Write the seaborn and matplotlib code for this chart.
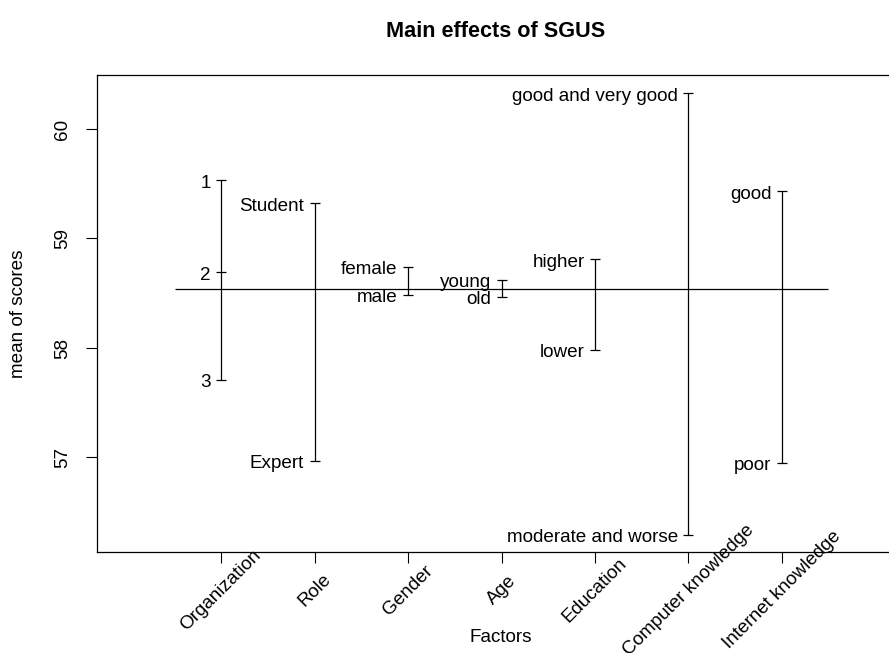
import pandas as pd
import matplotlib
matplotlib.use("Agg")
import matplotlib.pyplot as plt
import seaborn as sns

# Factor names (x axis) and the mean score for every level of each factor
factors = ["Organization", "Role", "Gender", "Age", "Education",
           "Computer knowledge", "Internet knowledge"]

organization_levels = ["1", "2", "3"]
organization_means = [59.53, 58.69, 57.71]

role_levels = ["Student", "Expert"]
role_means = [59.32, 56.97]

gender_levels = ["female", "male"]
gender_means = [58.74, 58.485]

age_levels = ["young", "old"]
age_means = [58.62, 58.47]

education_levels = ["higher", "lower"]
education_means = [58.81, 57.98]

computer_levels = ["good and very good", "moderate and worse"]
computer_means = [60.326, 56.295]

internet_levels = ["good", "poor"]
internet_means = [59.43, 56.95]

grand_mean = 58.54

y_ticks = [57, 58, 59, 60]

level_sets = [
    (organization_levels, organization_means),
    (role_levels, role_means),
    (gender_levels, gender_means),
    (age_levels, age_means),
    (education_levels, education_means),
    (computer_levels, computer_means),
    (internet_levels, internet_means),
]

rows = []
for factor, (levels, means) in zip(factors, level_sets):
    for level, mean in zip(levels, means):
        rows.append({"factor": factor, "level": level, "mean": mean})
df = pd.DataFrame(rows)
df["factor"] = pd.Categorical(df["factor"], categories=factors, ordered=True)
df["pos"] = df["factor"].cat.codes

sns.set_style("ticks")
plt.rcParams["font.family"] = ["Liberation Sans", "DejaVu Sans"]
plt.rcParams["font.size"] = 13.6
for key in ["text.color", "axes.labelcolor", "xtick.color", "ytick.color",
            "axes.edgecolor"]:
    plt.rcParams[key] = "black"

W, H = 889, 653
fig = plt.figure(figsize=(W / 100, H / 100), dpi=100)
ax = fig.add_axes([97 / W, 1 - 552 / H, 809 / W, 477 / H])

# vertical range of each factor's level means
sns.lineplot(data=df, x="pos", y="mean", units="factor", estimator=None,
             sort=False, color="black", linewidth=0.9, ax=ax, legend=False)
# short horizontal mark at every level mean
sns.scatterplot(data=df, x="pos", y="mean", marker="_", s=52, color="black",
                linewidth=0.9, ax=ax, legend=False, zorder=3)

# overall mean across all observations
ax.hlines(grand_mean, -0.5, len(factors) - 0.5, color="black", linewidth=0.9)

for _, r in df.iterrows():
    ax.annotate(r["level"], xy=(r["pos"], r["mean"]), xytext=(-7.5, -5.2),
                textcoords="offset points", ha="right", va="baseline",
                fontsize=13.6, color="black")

ax.set_xlim(-1.33, len(factors) - 1 + 1.33)
ax.set_ylim(56.137, 60.493)
ax.set_xticks(range(len(factors)))
ax.set_xticklabels(factors, rotation=45, rotation_mode="anchor",
                   ha="center", va="center", fontsize=13.6, color="black")
ax.set_yticks(y_ticks)
ax.set_yticklabels([str(t) for t in y_ticks], rotation=90, va="center",
                   fontsize=13.6, color="black")
ax.tick_params(axis="x", direction="out", length=8, width=0.8, pad=19.5,
               color="black", labelcolor="black")
ax.tick_params(axis="y", direction="out", length=8, width=0.8, pad=10.5,
               color="black", labelcolor="black")
ax.set_xlabel("")
ax.set_ylabel("")

for side in ["left", "top", "bottom"]:
    ax.spines[side].set_visible(True)
    ax.spines[side].set_color("black")
    ax.spines[side].set_linewidth(0.9)
ax.spines["right"].set_visible(False)

fig.text(496 / W, 1 - 37 / H, "Main effects of SGUS", ha="center",
         va="baseline", fontsize=15.6, fontweight="bold", color="black")
fig.text(500.5 / W, 1 - 642 / H, "Factors", ha="center", va="baseline",
         fontsize=13.6, color="black")
fig.text(19 / W, 1 - 313.5 / H, "mean of scores", ha="center", va="center",
         rotation=90, fontsize=13.6, color="black")

fig.savefig("out.png", dpi=100)
